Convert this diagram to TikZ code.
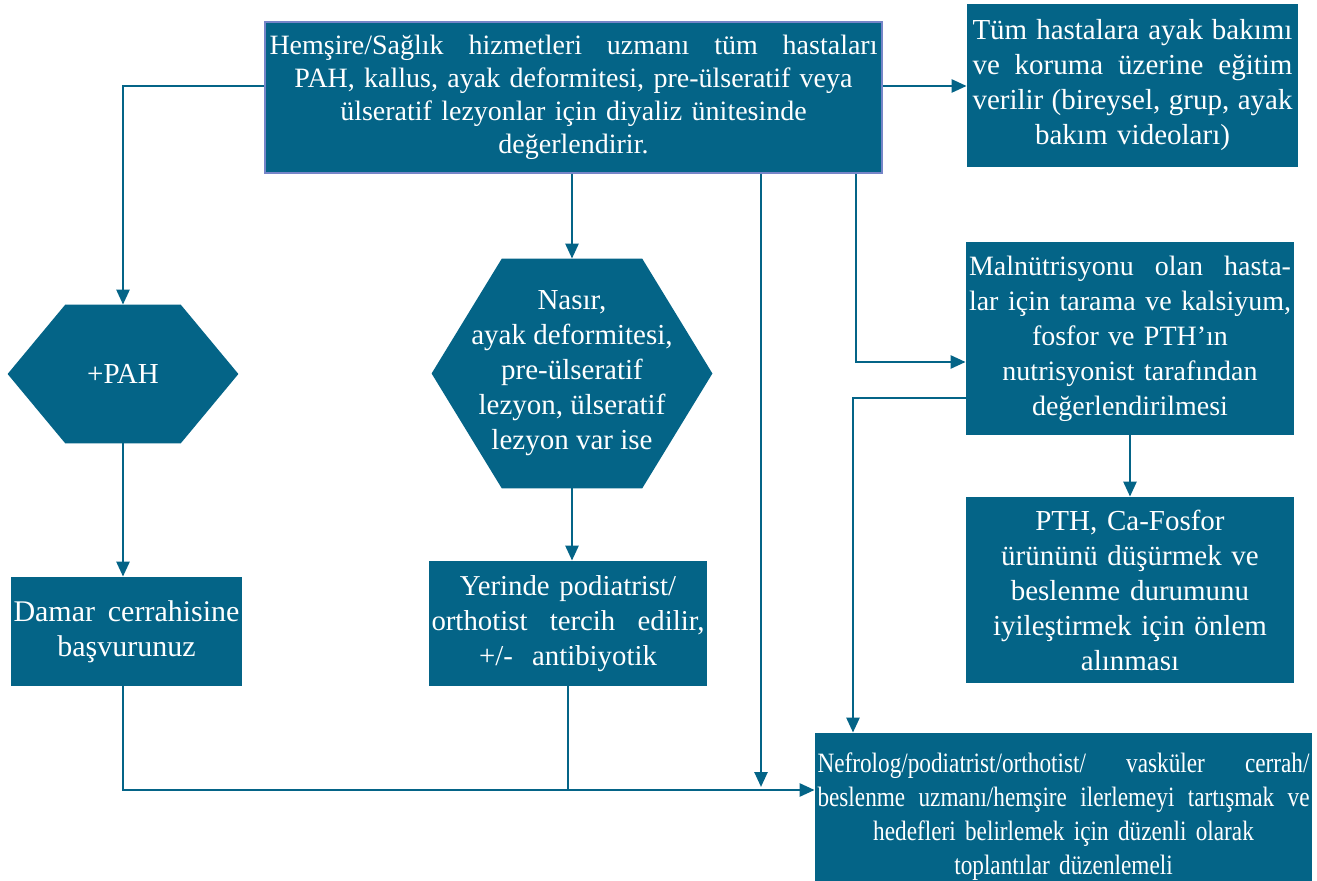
\documentclass[tikz,border=0pt]{standalone}
\usepackage{fontspec}
\setmainfont{Liberation Serif}
\newfontfamily\narrowserif[FakeStretch=0.83]{Liberation Serif}
\usepackage{xcolor}
\usepackage{tikz}
\usetikzlibrary{positioning,calc,arrows.meta,backgrounds}

\definecolor{boxteal}{RGB}{4,100,135}
\definecolor{edgeblue}{RGB}{118,133,200}
\newcommand{\fullline}[1]{\makebox[\hsize][s]{\spaceskip=0.25em plus 1fil minus 0.06em\relax#1}}
\newcommand{\boxsize}[1]{\fontsize{#1}{17.5}\selectfont}

\begin{document}
\begin{tikzpicture}[x=0.5pt,y=-0.5pt,
    box/.style={fill=boxteal, text=white, align=center, inner sep=0pt},
    hexa/.style={text=white, align=center, inner sep=0pt},
    flow/.style={draw=boxteal, line width=1.3pt, -{Triangle[length=7.5pt,width=6.5pt]}},
    link/.style={draw=boxteal, line width=1.3pt}]
\useasboundingbox (0,0) rectangle (1317,881);

\node[box, draw=edgeblue, line width=1pt, minimum width=308.5pt, minimum height=75.5pt, text width=304pt,
  font=\fontsize{14}{16.5}\selectfont] (assess) at (573.5,97.5)
  {\fullline{Hemşire/Sağlık hizmetleri uzmanı tüm hastaları}\\ PAH, kallus, ayak deformitesi, pre-ülseratif veya\\ ülseratif lezyonlar için diyaliz ünitesinde\\ değerlendirir.};
\node[box, minimum width=165.5pt, minimum height=81.5pt, text width=160pt, font=\boxsize{14.5}] (educ) at (1132.5,85.5)
  {\fullline{Tüm hastalara ayak bakımı}\\ \fullline{ve koruma üzerine eğitim}\\ \fullline{verilir (bireysel, grup, ayak}\\ bakım videoları)};
\node[box, minimum width=164pt, minimum height=96.5pt, text width=161pt, font=\boxsize{14}] (malnut) at (1130,338.5)
  {\fullline{Malnütrisyonu olan hasta-}\\ \fullline{lar için tarama ve kalsiyum,}\\ fosfor ve PTH’ın\\ nutrisyonist tarafından\\ değerlendirilmesi};
\node[box, minimum width=164pt, minimum height=93pt, text width=155pt, font=\boxsize{14.5}] (pth) at (1130,590)
  {PTH, Ca-Fosfor\\ ürününü düşürmek ve\\ beslenme durumunu\\ iyileştirmek için önlem\\ alınması};
\node[box, minimum width=248.5pt, minimum height=83.5pt, text width=246pt,
  font=\narrowserif\fontsize{14}{17}\selectfont] (meet) at (1063.5,816.5)
  {\fullline{Nefrolog/podiatrist/orthotist/ vasküler cerrah/}\\ \fullline{beslenme uzmanı/hemşire ilerlemeyi tartışmak ve}\\ hedefleri belirlemek için düzenli olarak\\ toplantılar düzenlemeli};

\node[hexa, minimum width=115pt, minimum height=69pt, font=\boxsize{14.5}] (pah) at (123,374) {+PAH};
\node[hexa, minimum width=140pt, minimum height=114.5pt, font=\boxsize{14.5}] (lesion) at (572,373.5)
  {Nasır,\\ ayak deformitesi,\\ pre-ülseratif\\ lezyon, ülseratif\\ lezyon var ise};
\begin{pgfonlayer}{background}
  \foreach \h in {pah,lesion}
    \fill[boxteal] (\h.west) -- ($(\h.north west)!0.25!(\h.north east)$) -- ($(\h.north west)!0.75!(\h.north east)$)
      -- (\h.east) -- ($(\h.south west)!0.75!(\h.south east)$) -- ($(\h.south west)!0.25!(\h.south east)$) -- cycle;
\end{pgfonlayer}

\node[box, minimum width=115.5pt, minimum height=54.5pt, text width=113pt, font=\boxsize{15}] (damar) at (126.5,631.5)
  {\fullline{Damar cerrahisine}\\ başvurunuz};
\node[box, minimum width=139pt, minimum height=62.5pt, text width=136.5pt, font=\boxsize{14.4}] (yerinde) at (568,623.5)
  {Yerinde podiatrist/\\ \fullline{orthotist tercih edilir,}\\ +/-\ \ antibiyotik};

\coordinate (bus) at (761,790);
\coordinate (drop) at (761,787);

\draw[flow] (assess.west |- 0,86) -| (pah.north);
\draw[flow] (assess.east |- 0,86) -- (educ.west |- 0,86);
\draw[flow] (assess.south -| lesion.north) -- (lesion.north);
\draw[flow] (assess.south -| drop) -- (drop);
\draw[flow] (assess.south -| 856,0) |- (malnut.west |- 0,362);
\draw[flow] (pah.south) -- (pah.south |- damar.north);
\draw[flow] (lesion.south) -- (lesion.south |- yerinde.north);
\draw[flow] (malnut.south -| pth.north) -- (pth.north);
\draw[flow] (malnut.west |- 0,398) -| (meet.north -| 853,0);
\draw[flow] (damar.south -| pah.south) |- (meet.west |- bus);
\draw[link] (yerinde.south) -- (yerinde.south |- bus);
\end{tikzpicture}
\end{document}
